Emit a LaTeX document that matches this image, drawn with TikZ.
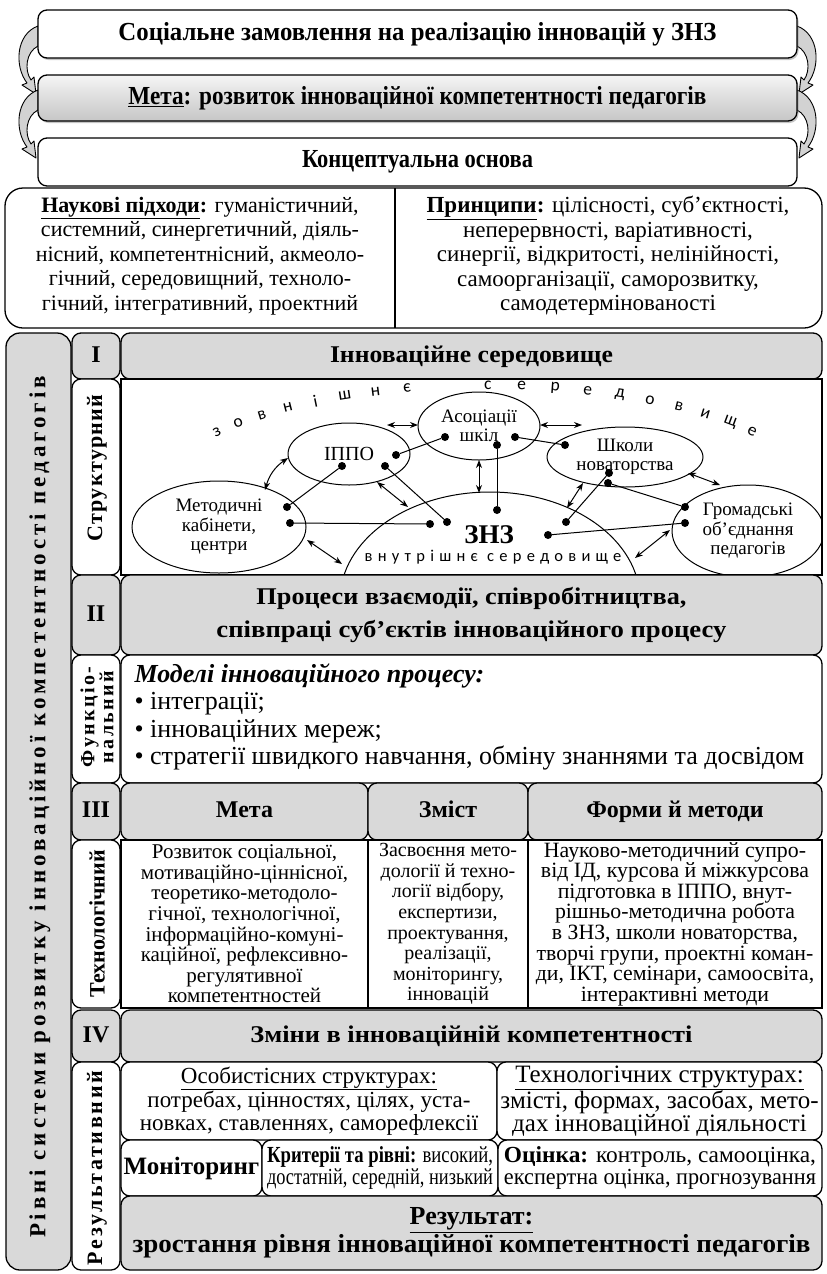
\documentclass[tikz,border=0pt]{standalone}
\usepackage{fontspec}
\usepackage{graphicx}
\setmainfont{Liberation Serif}
\newfontfamily\sansls[LetterSpace=32]{Carlito}
\newfontfamily\sansarc{Carlito}
\newfontfamily\serls[LetterSpace=17]{Liberation Serif}
\newfontfamily\sersm[LetterSpace=6]{Liberation Serif}
\newfontfamily\sermd[LetterSpace=12]{Liberation Serif}
\usetikzlibrary{shapes.geometric,arrows.meta,shadows}
\newcommand\fs[2]{\fontsize{#1}{#2}\selectfont}
\newcommand\sq[2]{\resizebox{#1pt}{\height}{#2}}
\begin{document}
\begin{tikzpicture}[x=1pt,y=-1pt,
 bx/.style={draw, line width=1.3pt, rounded corners=9pt, inner sep=0pt, align=center},
 gr/.style={bx, fill=gray!30},
 wh/.style={bx, fill=white},
 sqc/.style={draw, line width=1.3pt, inner sep=0pt, align=center, fill=white},
 ell/.style={ellipse, draw, line width=1pt, inner sep=0pt, align=center},
 dot/.style={circle, fill, inner sep=0pt, minimum size=8pt},
 link/.style={line width=1pt},
 dbl/.style={line width=1pt, {Stealth[length=8pt,width=6pt]}-{Stealth[length=8pt,width=6pt]}},
 sidearrow/.style={fill=gray!35, draw=black, line width=0.9pt, line join=round},
 shad/.style={drop shadow={shadow xshift=1.5pt, shadow yshift=-2pt, opacity=0.45}},
 hd/.style={font=\fs{24}{26}\bfseries, text height=17pt, text depth=5pt},
 top/.style={font=\fs{26}{28}\bfseries},
 body/.style={font=\fs{22}{24.5}},
 ellt/.style={font=\fs{19}{19.5}}
]
\useasboundingbox (0,0) rectangle (827,1274);
\fill[white] (0,0) rectangle (827,1274);

% ---------- side curved arrows ----------
\foreach \dy in {0,64}{
 \begin{scope}[yshift={-\dy pt}]
 \path[sidearrow] (38,26) .. controls (16,34) and (14,66) .. (27,83) -- (22,85) -- (36,94) -- (34,77) -- (31,80) .. controls (24,70) and (26,52) .. (38,46) -- cycle;
 \path[sidearrow] (797,26) .. controls (819,34) and (821,66) .. (808,83) -- (813,85) -- (799,94) -- (801,77) -- (804,80) .. controls (811,70) and (809,52) .. (797,46) -- cycle;
 \end{scope}
}

% ---------- top boxes ----------
\node[wh, shad, top, minimum width=759pt, minimum height=48pt] (b1) at (417.5,34)
 {\sq{598}{Соціальне замовлення на реалізацію інновацій у ЗНЗ}};
\node[bx, shad, top, top color=gray!8, bottom color=gray!45, minimum width=759pt, minimum height=46pt] (b2) at (417.5,98)
 {\sq{578}{\underline{Мета}: розвиток інноваційної компетентності педагогів}};
\node[wh, top, minimum width=759pt, minimum height=48pt] (b3) at (417.5,162)
 {\sq{231}{Концептуальна основа}};

% ---------- concept block ----------
\node[wh, rounded corners=18pt, minimum width=817pt, minimum height=140pt] (b4) at (413.5,258) {};
\draw[line width=1.2pt] (395,188) -- (395,328);
\node[body, align=center] (sci) at (200,256) {%
 \textbf{\underline{Наукові підходи}:} гуманістичний,\\
 системний, синергетичний, діяль-\\
 нісний, компетентнісний, акмеоло-\\
 гічний, середовищний, техноло-\\
 гічний, інтегративний, проектний};
\node[font=\fs{23}{24.5}, align=center] (pri) at (608,256) {%
 \textbf{\underline{Принципи}:} цілісності, суб’єктності,\\
 неперервності, варіативності,\\
 синергії, відкритості, нелінійності,\\
 самоорганізації, саморозвитку,\\
 самодетермінованості};

% ---------- left column ----------
\node[gr, rounded corners=14pt, minimum width=65pt, minimum height=937pt] (lev) at (38.5,801.5) {};
\node[rotate=90, font=\fs{23}{24}\bfseries\serls] (levt) at (40,807) {Рівні системи розвитку інноваційної компетентності педагогів};

% ---------- second column ----------
\node[gr, hd, minimum width=48pt, minimum height=46pt] (c1) at (96,356) {I};
\node[wh, minimum width=48pt, minimum height=196pt] (c1t) at (96,477) {};
\node[rotate=90, font=\fs{22}{24}\bfseries\sersm] (c1l) at (97,468) {Структурний};
\node[gr, hd, minimum width=48pt, minimum height=80pt] (c2) at (96,615) {II};
\node[wh, minimum width=48pt, minimum height=128pt] (c2t) at (96,719) {};
\node[rotate=90, align=center, font=\fs{20}{19}\bfseries\sermd] (c2l) at (97,717) {Функціо-\\нальний};
\node[gr, hd, minimum width=48pt, minimum height=57pt] (c3) at (96,811.5) {III};
\node[wh, minimum width=48pt, minimum height=168pt] (c3t) at (96,924) {};
\node[rotate=90, font=\fs{22}{24}\bfseries] (c3l) at (97,924) {Технологічний};
\node[gr, hd, minimum width=48pt, minimum height=52pt] (c4) at (96,1036) {IV};
\node[wh, minimum width=48pt, minimum height=208pt] (c4t) at (96,1166) {};
\node[rotate=90, font=\fs{22}{24}\bfseries\sermd] (c4l) at (97,1168) {Результативний};

% ---------- level I ----------
\node[gr, hd, minimum width=701pt, minimum height=46pt] (h1) at (471.5,356)
 {\sq{283}{Інноваційне середовище}};
\node[sqc, minimum width=701pt, minimum height=196pt] (env) at (471.5,477) {};

\begin{scope}
 \clip (121,379) rectangle (822,575);
 \node[ell, minimum width=300pt, minimum height=216pt] (znz) at (490,600) {};
 \node[ell, ellt, minimum width=152pt, minimum height=92pt] (grom) at (748,531)
  {Громадські\\об’єднання\\педагогів};
\end{scope}
\node[ell, ellt, minimum width=174pt, minimum height=92pt] (met) at (219,527)
 {Методичні\\кабінети,\\центри};
\node[ell, font=\fs{20}{20}, minimum width=122pt, minimum height=62pt] (ippo) at (349,454) {ІППО};
\node[ell, ellt, minimum width=122pt, minimum height=68pt] (asoc) at (479,426) {Асоціації\\шкіл};
\node[ell, ellt, minimum width=156pt, minimum height=60pt] (shk) at (625,457) {Школи\\новаторства};
\node[font=\fs{27}{28}\bfseries] (znzt) at (489,535) {ЗНЗ};
\node[font=\fs{16.5}{18}\sansls] (inner) at (493,557) {внутрішнє середовище};

\foreach \l/\t in {з/142.5, о/136.9, в/131.3, н/125.7, і/120.1, ш/114.5, н/108.9, є/103.3,
  с/89.5, е/83.76, р/78.0, е/72.3, д/66.5, о/60.8, в/55.0, и/49.3, щ/43.5, е/37.8}
 \node[inner sep=0pt, font=\fs{17.5}{18}\sansarc, rotate={atan2(-120*cos(\t), 338*sin(\t))}] at ({485+338*cos(\t)}, {505-120*sin(\t)}) {\l};

% dots
\node[dot] (dA1) at (445,437) {};
\node[dot] (dI1) at (396,455) {};
\node[dot] (dI2) at (342,466) {};
\node[dot] (dM1) at (287,507) {};
\node[dot] (dI3) at (385,466) {};
\node[dot] (dZ1) at (447,522) {};
\node[dot] (dM2) at (290,523) {};
\node[dot] (dZ2) at (430,524) {};
\node[dot] (dA2) at (515,437) {};
\node[dot] (dS1) at (565,445) {};
\node[dot] (dA3) at (497,445) {};
\node[dot] (dZ3) at (497,510) {};
\node[dot] (dS2) at (609,473) {};
\node[dot] (dZ4) at (566,522) {};
\node[dot] (dS3) at (608,483) {};
\node[dot] (dG1) at (685,507) {};
\node[dot] (dG2) at (685,523) {};
\node[dot] (dZ5) at (548,535) {};
\draw[link] (dA1) -- (dI1);
\draw[link] (dI2) -- (dM1);
\draw[link] (dI3) -- (dZ1);
\draw[link] (dM2) -- (dZ2);
\draw[link] (dA2) -- (dS1);
\draw[link] (dA3) -- (dZ3);
\draw[link] (dS2) -- (dZ4);
\draw[link] (dS3) -- (dG1);
\draw[link] (dG2) -- (dZ5);

% double arrows
\coordinate (p1a) at (387,425); \coordinate (p1b) at (418,425);
\coordinate (p2a) at (540,425); \coordinate (p2b) at (582,425);
\coordinate (p3a) at (265,490); \coordinate (p3b) at (288,458);
\coordinate (p4a) at (377,482); \coordinate (p4b) at (408,507);
\coordinate (p5a) at (307,540); \coordinate (p5b) at (342,564);
\coordinate (p6a) at (479,460); \coordinate (p6b) at (479,493);
\coordinate (p7a) at (583,483); \coordinate (p7b) at (567,508);
\coordinate (p8a) at (688,473); \coordinate (p8b) at (720,485);
\coordinate (p9a) at (635,558); \coordinate (p9b) at (670,530);
\draw[dbl] (p1a) -- (p1b);
\draw[dbl] (p2a) -- (p2b);
\draw[dbl] (p3a) to[bend left=20] (p3b);
\draw[dbl] (p4a) -- (p4b);
\draw[dbl] (p5a) -- (p5b);
\draw[dbl] (p6a) -- (p6b);
\draw[dbl] (p7a) -- (p7b);
\draw[dbl] (p8a) -- (p8b);
\draw[dbl] (p9a) -- (p9b);
\draw[line width=1.3pt] (121,379) rectangle (822,575);

% ---------- level II ----------
\node[gr, font=\fs{24}{33}\bfseries, minimum width=701pt, minimum height=80pt] (h2) at (471.5,615)
 {\sq{430}{Процеси взаємодії, співробітництва,}\\\sq{510}{співпраці суб’єктів інноваційного процесу}};
\node[wh, minimum width=701pt, minimum height=128pt] (func) at (471.5,719) {};
\node[anchor=north west, align=left, font=\fs{26}{27.5}] (funct) at (131,660) {%
 \textbf{\textit{Моделі інноваційного процесу:}}\\
 • інтеграції;\\
 • інноваційних мереж;\\
 • стратегії швидкого навчання, обміну знаннями та досвідом};

% ---------- level III ----------
\node[gr, hd, minimum width=247pt, minimum height=57pt] (h3a) at (244.5,811.5) {Мета};
\node[gr, hd, minimum width=160pt, minimum height=57pt] (h3b) at (448,811.5) {Зміст};
\node[gr, hd, minimum width=294pt, minimum height=57pt] (h3c) at (675,811.5) {Форми й методи};
\node[sqc, font=\fs{21}{20.6}, minimum width=247pt, minimum height=168pt] (t1) at (244.5,924) {%
 Розвиток соціальної,\\
 мотиваційно-ціннісної,\\
 теоретико-методоло-\\
 гічної, технологічної,\\
 інформаційно-комуні-\\
 каційної, рефлексивно-\\
 регулятивної\\
 компетентностей};
\node[sqc, font=\fs{20}{20.6}, minimum width=160pt, minimum height=168pt] (t2) at (448,924) {%
 Засвоєння мето-\\
 дології й техно-\\
 логії відбору,\\
 експертизи,\\
 проектування,\\
 реалізації,\\
 моніторингу,\\
 інновацій};
\node[sqc, font=\fs{21.8}{20.6}, minimum width=294pt, minimum height=168pt] (t3) at (675,924) {%
 Науково-методичний супро-\\
 від ІД, курсова й міжкурсова\\
 підготовка в ІППО, внут-\\
 рішньо-методична робота\\
 в ЗНЗ, школи новаторства,\\
 творчі групи, проектні коман-\\
 ди, ІКТ, семінари, самоосвіта,\\
 інтерактивні методи};

% ---------- level IV ----------
\node[gr, hd, minimum width=701pt, minimum height=52pt] (h4) at (471.5,1036)
 {\sq{442}{Зміни в інноваційній компетентності}};
\node[wh, font=\fs{23}{22.5}, minimum width=376pt, minimum height=78pt] (r1a) at (309,1101) {%
 \underline{Особистісних структурах:}\\
 потребах, цінностях, цілях, уста-\\
 новках, ставленнях, саморефлексії};
\node[wh, font=\fs{25}{22.5}, minimum width=325pt, minimum height=78pt] (r1b) at (659.5,1101) {%
 \underline{Технологічних структурах:}\\
 змісті, формах, засобах, мето-\\
 дах інноваційної діяльності};
\node[wh, font=\fs{25}{23}\bfseries, minimum width=141pt, minimum height=56pt] (r2a) at (191.5,1168) {Моніторинг};
\node[wh, font=\fs{23}{22.5}, minimum width=236pt, minimum height=56pt] (r2b) at (380,1168) {%
 \sq{226}{\textbf{Критерії та рівні:} високий,}\\ \sq{226}{достатній, середній, низький}};
\node[wh, font=\fs{23}{22.5}, minimum width=324pt, minimum height=56pt] (r2c) at (660,1168) {%
 \sq{312}{\textbf{Оцінка:} контроль, самооцінка,}\\ \sq{312}{експертна оцінка, прогнозування}};
\node[gr, font=\fs{26}{28}\bfseries, minimum width=701pt, minimum height=74pt] (r3) at (471.5,1233) {%
 \underline{Результат:}\\ \sq{678}{зростання рівня інноваційної компетентності педагогів}};
\end{tikzpicture}
\end{document}
